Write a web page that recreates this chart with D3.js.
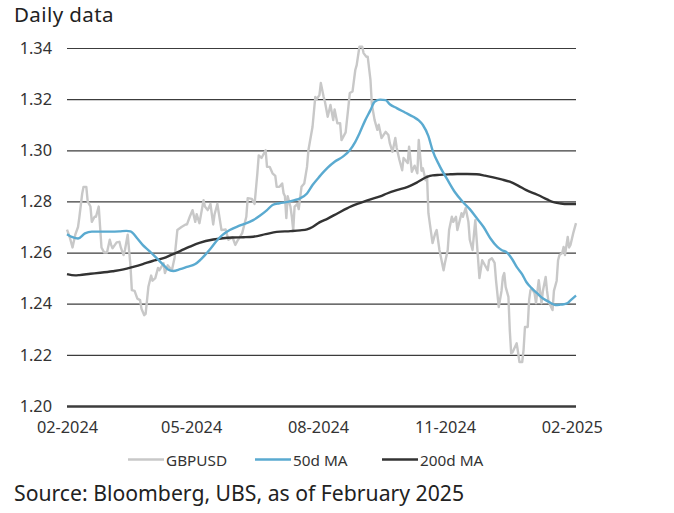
<!DOCTYPE html>
<html>
<head>
<meta charset="utf-8">
<script src="https://cdn.jsdelivr.net/npm/d3@7"></script>
<style>
  html, body { margin: 0; padding: 0; background: #fff; }
  svg { display: block; font-family: "Noto Sans", "Open Sans", sans-serif; }
</style>
</head>
<body>
<svg id="chart" width="674" height="513"></svg>
<script>
// ---- Data ----
const title = "Daily data";
const source = "Source: Bloomberg, UBS, as of February 2025";
const yTicks = [1.20, 1.22, 1.24, 1.26, 1.28, 1.30, 1.32, 1.34];
const xTickDates = ["2024-02-01", "2024-05-01", "2024-08-01", "2024-11-01", "2025-02-01"];
const xTickLabels = ["02-2024", "05-2024", "08-2024", "11-2024", "02-2025"];
const seriesNames = ["GBPUSD", "50d MA", "200d MA"];

const gbpusd = [
["2024-02-01",1.269],["2024-02-03",1.266],["2024-02-05",1.262],["2024-02-07",1.267],["2024-02-09",1.270],
["2024-02-10",1.274],["2024-02-12",1.283],["2024-02-13",1.2857],["2024-02-15",1.2857],["2024-02-16",1.280],
["2024-02-18",1.278],["2024-02-19",1.272],["2024-02-21",1.274],["2024-02-22",1.274],["2024-02-24",1.278],
["2024-02-25",1.270],["2024-02-26",1.262],["2024-02-28",1.260],["2024-03-01",1.260],["2024-03-03",1.265],
["2024-03-04",1.263],["2024-03-05",1.2617],["2024-03-08",1.264],["2024-03-10",1.2642],["2024-03-11",1.262],
["2024-03-13",1.259],["2024-03-14",1.261],["2024-03-16",1.267],["2024-03-18",1.255],["2024-03-19",1.2453],
["2024-03-21",1.245],["2024-03-23",1.242],["2024-03-25",1.2414],["2024-03-26",1.238],["2024-03-28",1.2355],
["2024-03-29",1.236],["2024-03-31",1.2466],["2024-04-02",1.251],["2024-04-03",1.249],["2024-04-05",1.250],
["2024-04-07",1.254],["2024-04-08",1.2531],["2024-04-11",1.2558],["2024-04-12",1.252],["2024-04-14",1.255],
["2024-04-17",1.253],["2024-04-19",1.258],["2024-04-21",1.2688],["2024-04-24",1.270],["2024-04-27",1.271],
["2024-04-28",1.271],["2024-04-30",1.274],["2024-05-02",1.2766],["2024-05-04",1.272],["2024-05-05",1.275],
["2024-05-07",1.2715],["2024-05-10",1.2805],["2024-05-11",1.278],["2024-05-13",1.2766],["2024-05-15",1.279],
["2024-05-17",1.271],["2024-05-18",1.275],["2024-05-20",1.279],["2024-05-23",1.2688],["2024-05-26",1.269],
["2024-05-28",1.265],["2024-05-31",1.266],["2024-06-02",1.263],["2024-06-04",1.265],["2024-06-07",1.2676],
["2024-06-10",1.274],["2024-06-11",1.2813],["2024-06-14",1.281],["2024-06-16",1.279],["2024-06-18",1.291],
["2024-06-19",1.298],["2024-06-21",1.297],["2024-06-24",1.300],["2024-06-25",1.2935],["2024-06-27",1.2935],
["2024-06-29",1.291],["2024-07-01",1.290],["2024-07-02",1.2857],["2024-07-04",1.2857],["2024-07-06",1.287],
["2024-07-07",1.2832],["2024-07-08",1.282],["2024-07-09",1.2735],["2024-07-10",1.282],["2024-07-12",1.2779],
["2024-07-13",1.274],["2024-07-14",1.2688],["2024-07-15",1.278],["2024-07-17",1.279],["2024-07-18",1.277],
["2024-07-20",1.2857],["2024-07-22",1.287],["2024-07-24",1.2935],["2024-07-25",1.300],["2024-07-28",1.3092],
["2024-07-30",1.3209],["2024-07-31",1.320],["2024-08-02",1.3216],["2024-08-03",1.3263],["2024-08-05",1.321],
["2024-08-06",1.319],["2024-08-08",1.3131],["2024-08-10",1.3177],["2024-08-12",1.3118],["2024-08-13",1.316],
["2024-08-15",1.3106],["2024-08-17",1.3106],["2024-08-18",1.304],["2024-08-21",1.307],["2024-08-23",1.317],
["2024-08-24",1.3224],["2024-08-26",1.323],["2024-08-28",1.3314],["2024-08-29",1.3333],["2024-08-31",1.3405],
["2024-09-02",1.3405],["2024-09-03",1.338],["2024-09-05",1.3366],["2024-09-06",1.3366],["2024-09-08",1.3275],
["2024-09-09",1.318],["2024-09-11",1.3118],["2024-09-13",1.308],["2024-09-14",1.310],["2024-09-16",1.3048],
["2024-09-19",1.3072],["2024-09-21",1.306],["2024-09-22",1.3028],["2024-09-24",1.2994],["2024-09-26",1.3048],
["2024-09-27",1.301],["2024-09-29",1.2962],["2024-10-01",1.2922],["2024-10-02",1.297],["2024-10-05",1.295],
["2024-10-06",1.3014],["2024-10-08",1.2916],["2024-10-10",1.294],["2024-10-12",1.291],["2024-10-13",1.304],
["2024-10-15",1.292],["2024-10-16",1.293],["2024-10-18",1.2883],["2024-10-19",1.290],["2024-10-20",1.2754],
["2024-10-22",1.2676],["2024-10-23",1.2637],["2024-10-25",1.2676],["2024-10-26",1.2688],["2024-10-28",1.261],
["2024-10-31",1.2531],["2024-11-01",1.256],["2024-11-03",1.261],["2024-11-04",1.2688],["2024-11-06",1.274],
["2024-11-07",1.272],["2024-11-09",1.274],["2024-11-10",1.2688],["2024-11-13",1.2754],["2024-11-14",1.274],
["2024-11-16",1.2774],["2024-11-18",1.272],["2024-11-19",1.265],["2024-11-21",1.261],["2024-11-22",1.267],
["2024-11-23",1.2727],["2024-11-24",1.265],["2024-11-26",1.250],["2024-11-28",1.257],["2024-11-29",1.256],
["2024-12-02",1.2531],["2024-12-03",1.257],["2024-12-05",1.2578],["2024-12-07",1.256],["2024-12-08",1.2492],
["2024-12-10",1.2387],["2024-12-12",1.245],["2024-12-13",1.2505],["2024-12-14",1.252],["2024-12-15",1.2466],
["2024-12-17",1.2427],["2024-12-18",1.2296],["2024-12-19",1.2206],["2024-12-20",1.221],["2024-12-23",1.2245],
["2024-12-24",1.221],["2024-12-25",1.2172],["2024-12-27",1.2172],["2024-12-28",1.222],["2024-12-29",1.2309],
["2024-12-31",1.2309],["2025-01-01",1.2414],["2025-01-02",1.2453],["2025-01-03",1.246],["2025-01-05",1.244],
["2025-01-06",1.2402],["2025-01-08",1.2492],["2025-01-10",1.2402],["2025-01-11",1.245],["2025-01-13",1.2505],
["2025-01-14",1.245],["2025-01-15",1.241],["2025-01-18",1.2375],["2025-01-19",1.245],["2025-01-21",1.249],
["2025-01-22",1.257],["2025-01-23",1.259],["2025-01-25",1.2598],["2025-01-26",1.2622],["2025-01-27",1.259],
["2025-01-29",1.2661],["2025-01-30",1.262],["2025-01-31",1.263],["2025-02-02",1.2676],["2025-02-04",1.2715]
];

const ma50 = [
["2024-02-01",1.2672],["2024-02-05",1.2660],["2024-02-09",1.2655],["2024-02-14",1.2675],["2024-02-19",1.2682],
["2024-02-25",1.2682],["2024-03-03",1.2682],["2024-03-10",1.2683],["2024-03-15",1.2685],["2024-03-18",1.2683],
["2024-03-23",1.2655],["2024-03-27",1.2629],["2024-04-01",1.2605],["2024-04-06",1.2578],["2024-04-11",1.2551],
["2024-04-14",1.2535],["2024-04-18",1.2528],["2024-04-23",1.2535],["2024-04-28",1.2544],["2024-05-04",1.2555],
["2024-05-07",1.2568],["2024-05-11",1.2590],["2024-05-15",1.2615],["2024-05-20",1.2649],["2024-05-24",1.2670],
["2024-05-29",1.2688],["2024-06-05",1.2705],["2024-06-15",1.2727],["2024-06-20",1.2745],["2024-06-25",1.2766],
["2024-06-29",1.2786],["2024-07-04",1.2793],["2024-07-10",1.2798],["2024-07-15",1.2805],["2024-07-19",1.2812],
["2024-07-24",1.2831],["2024-07-28",1.2864],["2024-08-02",1.2897],["2024-08-08",1.2932],["2024-08-13",1.2955],
["2024-08-19",1.2975],["2024-08-24",1.3000],["2024-08-28",1.3033],["2024-08-31",1.3066],["2024-09-04",1.3115],
["2024-09-08",1.3157],["2024-09-11",1.3190],["2024-09-15",1.3198],["2024-09-19",1.3196],["2024-09-22",1.3180],
["2024-09-27",1.3165],["2024-10-03",1.3148],["2024-10-09",1.3131],["2024-10-13",1.3117],["2024-10-16",1.3099],
["2024-10-20",1.3055],["2024-10-23",1.3000],["2024-10-28",1.2940],["2024-11-03",1.2883],["2024-11-08",1.2838],
["2024-11-14",1.2798],["2024-11-19",1.2770],["2024-11-24",1.2735],["2024-11-29",1.2700],["2024-12-04",1.2655],
["2024-12-09",1.2622],["2024-12-12",1.2610],["2024-12-16",1.2600],["2024-12-20",1.2572],["2024-12-23",1.2544],
["2024-12-27",1.2515],["2024-12-30",1.2485],["2025-01-03",1.2460],["2025-01-07",1.2440],["2025-01-10",1.2425],
["2025-01-14",1.2411],["2025-01-17",1.2402],["2025-01-20",1.2395],["2025-01-23",1.2396],["2025-01-26",1.2398],
["2025-01-29",1.2403],["2025-01-31",1.2413],["2025-02-04",1.2432]
];

const ma200 = [
["2024-02-01",1.2516],["2024-02-07",1.2511],["2024-02-10",1.2512],["2024-02-18",1.2517],["2024-02-25",1.2521],
["2024-03-05",1.2527],["2024-03-13",1.2534],["2024-03-20",1.2544],["2024-03-27",1.2555],["2024-04-03",1.2567],
["2024-04-11",1.2578],["2024-04-17",1.2592],["2024-04-23",1.2606],["2024-04-30",1.2623],["2024-05-07",1.2638],
["2024-05-17",1.2651],["2024-05-24",1.2656],["2024-05-31",1.2659],["2024-06-08",1.2660],["2024-06-15",1.2662],
["2024-06-24",1.2672],["2024-07-02",1.2681],["2024-07-12",1.2684],["2024-07-19",1.2687],["2024-07-24",1.2691],
["2024-07-28",1.2700],["2024-08-02",1.2718],["2024-08-08",1.2733],["2024-08-15",1.2753],["2024-08-22",1.2773],
["2024-08-30",1.2791],["2024-09-08",1.2808],["2024-09-15",1.2820],["2024-09-20",1.2831],["2024-09-27",1.2844],
["2024-10-05",1.2857],["2024-10-12",1.2875],["2024-10-19",1.2896],["2024-10-23",1.2902],["2024-10-28",1.2904],
["2024-11-05",1.2906],["2024-11-10",1.2907],["2024-11-17",1.2907],["2024-11-24",1.2906],["2024-11-30",1.2901],
["2024-12-06",1.2894],["2024-12-12",1.2886],["2024-12-18",1.2877],["2024-12-24",1.2862],["2024-12-30",1.2844],
["2025-01-07",1.2826],["2025-01-14",1.2808],["2025-01-18",1.2798],["2025-01-24",1.2792],["2025-01-29",1.2790],
["2025-02-04",1.2790]
];

// ---- Chart ----
const parse = d3.timeParse("%Y-%m-%d");
const svg = d3.select("#chart");
const FONT = "'Noto Sans', 'Open Sans', sans-serif";

const x = d3.scaleTime()
  .domain([parse("2024-02-01"), parse("2025-02-04")])
  .range([67, 576]);
const y = d3.scaleLinear()
  .domain([1.20, 1.34])
  .range([406, 48]);

// Title
svg.append("text")
  .attr("x", 14).attr("y", 22)
  .attr("font-size", 20.5).attr("letter-spacing", 0.4).attr("fill", "#222")
  .text(title);

// Gridlines + y labels via axis
const yAxis = d3.axisLeft(y)
  .tickValues(yTicks)
  .tickFormat(d3.format(".2f"))
  .tickSize(-(576 - 67))
  .tickPadding(15);
const gy = svg.append("g").attr("transform", "translate(67,0)").call(yAxis);
gy.select(".domain").remove();
gy.selectAll(".tick line")
  .attr("stroke", "#3c3c3c")
  .attr("stroke-width", d => d === 1.20 ? 2.6 : 1.2);
gy.selectAll(".tick text")
  .attr("font-size", 16.3).attr("fill", "#333")
  .attr("font-family", FONT);

// X axis labels
const xAxis = d3.axisBottom(x)
  .tickValues(xTickDates.map(parse))
  .tickFormat((d, i) => xTickLabels[i])
  .tickSize(0)
  .tickPadding(10.7);
const gx = svg.append("g").attr("transform", "translate(0,411)").call(xAxis);
gx.select(".domain").remove();
gx.selectAll(".tick text")
  .attr("font-size", 16.3).attr("fill", "#333")
  .attr("font-family", FONT);

// Lines
const line = d3.line()
  .x(d => x(parse(d[0])))
  .y(d => y(d[1]));
const lineSmooth = d3.line()
  .curve(d3.curveMonotoneX)
  .x(d => x(parse(d[0])))
  .y(d => y(d[1]));

const colors = ["#c8c8c8", "#5aaad0", "#333333"];

svg.append("path").datum(gbpusd)
  .attr("d", line).attr("fill", "none")
  .attr("stroke", colors[0]).attr("stroke-width", 2.4)
  .attr("stroke-linejoin", "round");
svg.append("path").datum(ma200)
  .attr("d", lineSmooth).attr("fill", "none")
  .attr("stroke", colors[2]).attr("stroke-width", 2.4);
svg.append("path").datum(ma50)
  .attr("d", lineSmooth).attr("fill", "none")
  .attr("stroke", colors[1]).attr("stroke-width", 2.4);

// Legend
const legendX = [128, 255, 382];
const legend = svg.append("g");
seriesNames.forEach((name, i) => {
  const g = legend.append("g").attr("transform", `translate(${legendX[i]},459.5)`);
  g.append("line").attr("x1", 0).attr("x2", 36).attr("y1", 0).attr("y2", 0)
    .attr("stroke", colors[i]).attr("stroke-width", 2.4);
  g.append("text").attr("x", 38).attr("y", 6)
    .attr("font-size", 15.3).attr("fill", "#333")
    .text(name);
});

// Source
svg.append("text")
  .attr("x", 14).attr("y", 501)
  .attr("font-size", 21.2).attr("fill", "#222")
  .text(source);
</script>
</body>
</html>
